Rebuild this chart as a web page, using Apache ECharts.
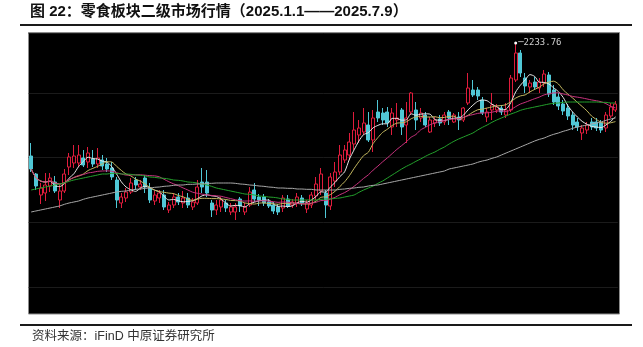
<!DOCTYPE html>
<html>
<head>
<meta charset="utf-8">
<script src="https://cdn.jsdelivr.net/npm/echarts@6/dist/echarts.min.js"></script>
<style>
html,body{margin:0;padding:0;background:#fff;}
#c{width:643px;height:347px;}
</style>
</head>
<body>
<div id="c"></div>
<script>
const dates = [
'2025-01-02','2025-01-03','2025-01-06','2025-01-07','2025-01-08','2025-01-09','2025-01-10','2025-01-13','2025-01-14','2025-01-15','2025-01-16','2025-01-17','2025-01-20','2025-01-21','2025-01-22','2025-01-23','2025-01-24','2025-01-27',
'2025-02-05','2025-02-06','2025-02-07','2025-02-10','2025-02-11','2025-02-12','2025-02-13','2025-02-14','2025-02-17','2025-02-18','2025-02-19','2025-02-20','2025-02-21','2025-02-24','2025-02-25','2025-02-26','2025-02-27','2025-02-28',
'2025-03-03','2025-03-04','2025-03-05','2025-03-06','2025-03-07','2025-03-10','2025-03-11','2025-03-12','2025-03-13','2025-03-14','2025-03-17','2025-03-18','2025-03-19','2025-03-20','2025-03-21','2025-03-24','2025-03-25','2025-03-26','2025-03-27','2025-03-28','2025-03-31',
'2025-04-01','2025-04-02','2025-04-03','2025-04-07','2025-04-08','2025-04-09','2025-04-10','2025-04-11','2025-04-14','2025-04-15','2025-04-16','2025-04-17','2025-04-18','2025-04-21','2025-04-22','2025-04-23','2025-04-24','2025-04-25','2025-04-28','2025-04-29','2025-04-30',
'2025-05-06','2025-05-07','2025-05-08','2025-05-09','2025-05-12','2025-05-13','2025-05-14','2025-05-15','2025-05-16','2025-05-19','2025-05-20','2025-05-21','2025-05-22','2025-05-23','2025-05-26','2025-05-27','2025-05-28','2025-05-29','2025-05-30',
'2025-06-03','2025-06-04','2025-06-05','2025-06-06','2025-06-09','2025-06-10','2025-06-11','2025-06-12','2025-06-13','2025-06-16','2025-06-17','2025-06-18','2025-06-19','2025-06-20','2025-06-23','2025-06-24','2025-06-25','2025-06-26','2025-06-27','2025-06-30',
'2025-07-01','2025-07-02','2025-07-03','2025-07-04','2025-07-07','2025-07-08','2025-07-09'];

const opens = [
1895,1841,1778,1784,1805,1817,1763,1790,1862,1874,
1874,1889,1877,1886,1871,1883,1871,1859,1823,1754,
1769,1787,1823,1802,1829,1799,1760,1769,1778,1733,
1748,1772,1754,1769,1742,1754,1817,1817,1754,1733,
1742,1754,1727,1727,1766,1727,1748,1793,1772,1772,
1757,1748,1742,1739,1766,1748,1754,1769,1736,1748,
1775,1790,1784,1745,1820,1847,1883,1898,1931,1958,
1967,1988,1943,2027,2024,2027,1982,2003,2033,1988,
2027,2033,2009,2018,1967,1994,2006,1997,2027,1997,
2012,2003,2054,2093,2093,2063,2012,2033,2033,2039,
2018,2033,2123,2204,2129,2102,2117,2099,2114,2138,
2093,2072,2051,2039,2018,1997,1964,1973,1997,1997,
1994,1979,2015,2033];

const closes = [
1856,1805,1799,1808,1829,1790,1790,1841,1892,1895,
1898,1868,1904,1871,1889,1865,1856,1832,1763,1772,
1787,1814,1808,1811,1802,1763,1778,1784,1742,1748,
1772,1757,1769,1748,1757,1802,1802,1784,1733,1748,
1763,1739,1742,1742,1745,1742,1787,1766,1763,1754,
1745,1730,1727,1769,1745,1757,1772,1754,1754,1778,
1811,1841,1748,1832,1847,1898,1913,1937,1973,1979,
1994,1943,2009,2009,2003,1994,2024,2009,1982,2009,
2084,2003,2024,1988,2003,2003,1994,2018,2009,2018,
2003,2039,2099,2078,2075,2024,2027,2048,2042,2027,
2033,2129,2204,2144,2105,2114,2102,2117,2141,2081,
2057,2045,2030,2015,1988,1982,1979,1988,1982,1979,
1973,2018,2042,2051];

const lows = [
1847,1793,1751,1760,1787,1784,1739,1784,1838,1859,
1862,1862,1859,1862,1859,1853,1847,1823,1739,1739,
1757,1781,1793,1793,1784,1754,1748,1754,1733,1724,
1739,1748,1739,1739,1733,1748,1784,1772,1712,1718,
1727,1727,1718,1703,1727,1718,1742,1757,1745,1745,
1739,1721,1718,1727,1739,1739,1742,1745,1724,1739,
1763,1778,1709,1733,1802,1838,1874,1883,1913,1934,
1958,1937,1907,1997,1988,1982,1958,1982,1958,1934,
2018,1973,1997,1982,1964,1982,1985,1988,1988,1994,
1973,1997,2048,2072,2063,2018,1997,2003,2024,2018,
2009,2027,2117,2132,2084,2084,2093,2084,2102,2072,
2048,2033,2018,2003,1973,1970,1943,1961,1973,1970,
1964,1967,2009,2027];

const highs = [
1934,1844,1814,1844,1844,1835,1808,1856,1904,1928,
1928,1913,1922,1913,1919,1898,1889,1877,1832,1784,
1799,1829,1832,1823,1838,1814,1790,1793,1793,1757,
1784,1784,1790,1784,1769,1823,1859,1853,1763,1763,
1772,1763,1754,1754,1772,1754,1802,1814,1781,1781,
1766,1757,1751,1778,1778,1766,1784,1778,1763,1787,
1832,1859,1793,1844,1877,1928,1928,1964,2027,2003,
2039,2027,2033,2063,2039,2042,2039,2054,2039,2057,
2087,2057,2039,2027,2012,2012,2018,2027,2033,2024,
2027,2042,2144,2123,2102,2072,2039,2084,2051,2048,
2054,2138,2233.76,2213,2144,2123,2132,2129,2153,2147,
2108,2084,2063,2051,2027,2009,1988,1997,2009,2009,
2003,2027,2054,2060];

// longer moving averages
const maGreen = [
1793,1796,1799,1802,1805,1808,1811,1814,1819,1823,
1826,1829,1832,1835,1838,1841,1841,1843,1843,1841,
1841,1840,1838,1837,1835,1832,1831,1829,1828,1826,
1823,1822,1820,1817,1816,1814,1811,1808,1804,1799,
1796,1793,1790,1787,1784,1781,1780,1778,1775,1774,
1772,1771,1769,1766,1765,1763,1763,1763,1763,1763,
1763,1765,1766,1766,1768,1769,1772,1775,1778,1786,
1793,1799,1805,1813,1820,1829,1838,1847,1856,1864,
1871,1879,1886,1894,1901,1907,1915,1922,1931,1939,
1946,1952,1958,1964,1973,1981,1988,1996,2003,2009,
2015,2021,2026,2032,2036,2039,2042,2045,2048,2051,
2053,2054,2056,2057,2057,2057,2057,2057,2057,2057,
2056,2056,2054,2054];

const maGrey = [
1727,1730,1733,1736,1739,1742,1745,1750,1754,1757,
1760,1765,1769,1772,1775,1778,1781,1784,1787,1789,
1790,1793,1795,1796,1798,1799,1801,1802,1804,1805,
1807,1808,1808,1810,1810,1811,1811,1813,1813,1814,
1814,1814,1814,1813,1811,1810,1808,1807,1805,1804,
1802,1801,1799,1799,1798,1798,1796,1796,1795,1795,
1793,1793,1793,1793,1793,1795,1796,1798,1799,1801,
1802,1805,1807,1808,1811,1814,1817,1820,1823,1826,
1829,1832,1835,1838,1841,1844,1847,1850,1856,1859,
1862,1865,1868,1871,1876,1880,1883,1888,1892,1898,
1904,1910,1916,1922,1928,1934,1940,1945,1949,1955,
1960,1964,1969,1973,1978,1982,1985,1988,1991,1994,
1997,2002,2006,2009];

const maPeriods = [5, 10, 20];

function movingAverage(n) {
  return closes.map((c, i) => {
    const s = Math.max(0, i - n + 1);
    let sum = 0;
    for (let j = s; j <= i; j++) sum += closes[j];
    return +(sum / (i - s + 1)).toFixed(2);
  });
}

const kData = opens.map((o, i) => [o, closes[i], lows[i], highs[i]]);

const chart = echarts.init(document.getElementById('c'), null, {renderer: 'canvas'});

const lineStyleFor = (color) => ({
  type: 'line', showSymbol: false, symbol: 'none', smooth: 0.25,
  lineStyle: {color: color, width: 1}, itemStyle: {color: color},
  silent: true, z: 3
});

chart.setOption({
  animation: false,
  backgroundColor: '#ffffff',
  grid: {left: 28.7, right: 25.2, top: 33, bottom: 60, containLabel: false},
  xAxis: {
    type: 'category', data: dates, boundaryGap: true,
    axisLine: {show: false}, axisTick: {show: false}, axisLabel: {show: false},
    splitLine: {show: false}
  },
  yAxis: [
    {type: 'value', min: 1502, max: 2264, scale: true,
     axisLine: {show: false}, axisTick: {show: false}, axisLabel: {show: false},
     splitLine: {show: false}},
    {type: 'value', min: 0, max: 3.926, interval: 1, position: 'right',
     axisLine: {show: false}, axisTick: {show: false}, axisLabel: {show: false},
     splitLine: {show: true, lineStyle: {color: '#1b1b1b', width: 1}}}
  ],
  graphic: [
    {type: 'rect', z: -10, shape: {x: 28.5, y: 32.5, width: 591, height: 281.5},
     style: {fill: '#000', stroke: '#8c8c8c', lineWidth: 1}},
    {type: 'line', z: 100, shape: {x1: 20, y1: 25, x2: 632, y2: 25},
     style: {stroke: '#1a1a1a', lineWidth: 2}},
    {type: 'line', z: 100, shape: {x1: 20, y1: 325, x2: 632, y2: 325},
     style: {stroke: '#1a1a1a', lineWidth: 2}},
    {type: 'text', z: 100, x: 30, y: 12,
     style: {text: '图 22：零食板块二级市场行情（2025.1.1——2025.7.9）',
       font: 'bold 15px "Liberation Sans", "Noto Sans CJK SC", sans-serif',
       fill: '#111', textVerticalAlign: 'middle'}},
    {type: 'text', z: 100, x: 32, y: 337,
     style: {text: '资料来源：iFinD 中原证券研究所',
       font: '12.5px "Liberation Sans", "Noto Sans CJK SC", sans-serif',
       fill: '#333', textVerticalAlign: 'middle'}}
  ],
  series: [
    {
      type: 'candlestick', data: kData, barWidth: 3.4, z: 2,
      itemStyle: {color: '#000000', borderColor: '#e01c3c', color0: '#50c8d6', borderColor0: '#50c8d6', borderWidth: 1},
      markPoint: {
        symbol: 'circle', symbolSize: 3,
        itemStyle: {color: '#ffffff'},
        label: {show: true, position: 'right', distance: 1, color: '#d0d0d0', fontSize: 9,
          fontFamily: '"DejaVu Sans Mono", monospace',
          formatter: (p) => '\u2500' + Number(p.value).toFixed(2)},
        data: [{type: 'max', valueDim: 'highest', name: 'max'}]
      }
    },
    Object.assign({name: 'MA5', data: movingAverage(maPeriods[0])}, lineStyleFor('#e6e6e6')),
    Object.assign({name: 'MA10', data: movingAverage(maPeriods[1])}, lineStyleFor('#c4b860')),
    Object.assign({name: 'MA20', data: movingAverage(maPeriods[2])}, lineStyleFor('#c8327e')),
    Object.assign({name: 'MA30', data: maGreen}, lineStyleFor('#23a02c')),
    Object.assign({name: 'MA60', data: maGrey}, lineStyleFor('#a8a8a8'))
  ]
});
</script>
</body>
</html>
